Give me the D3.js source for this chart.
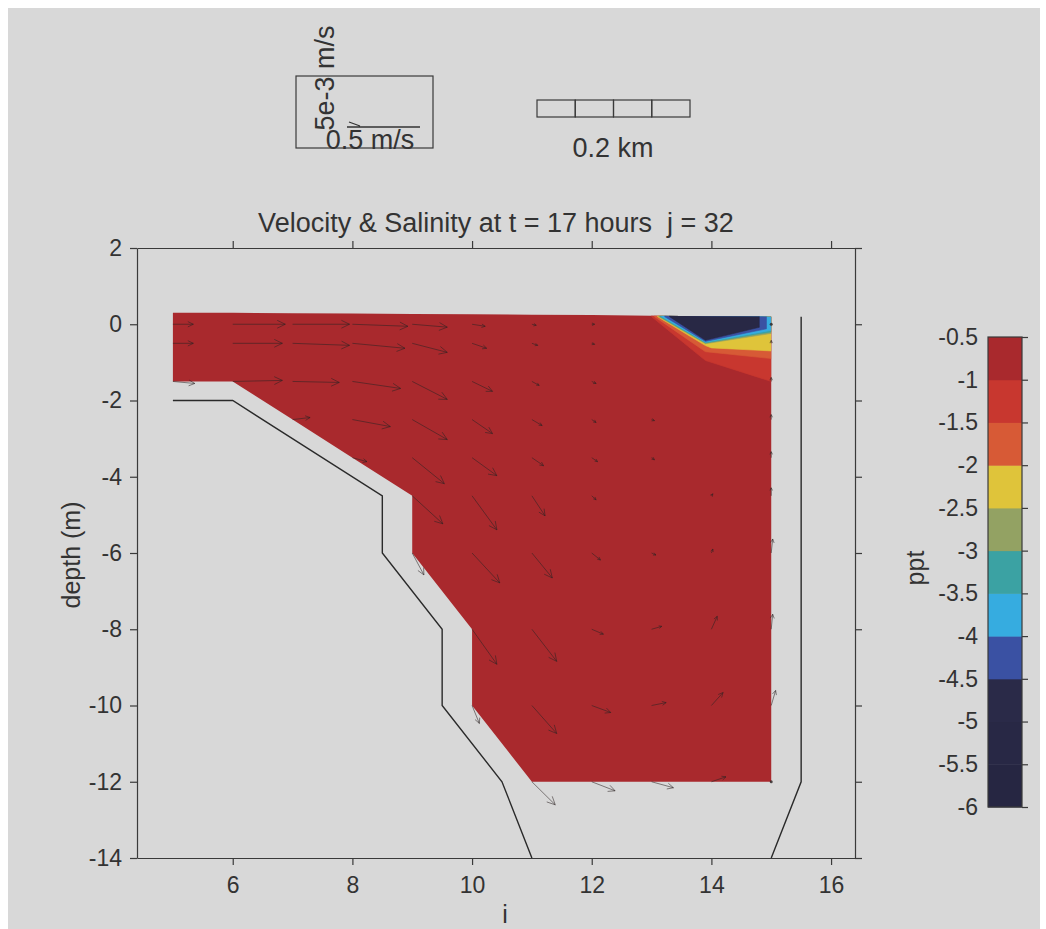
<!DOCTYPE html>
<html>
<head>
<meta charset="utf-8">
<script src="https://cdn.jsdelivr.net/npm/d3@7"></script>
<style>
  body { margin: 0; background: #fff; }
  svg { display: block; font-family: "Liberation Sans", Arial, sans-serif; }
</style>
</head>
<body>
<svg id="chart" width="1046" height="929"></svg>
<script>
// model grid: columns i and level depths (m)
var iCols = [5, 6, 7, 8, 9, 10, 11, 12, 13, 14, 15];
var levels = [0, -0.5, -1.5, -2.5, -3.5, -4.5, -6, -8, -10, -12];
var surface = [0.30, 0.30, 0.29, 0.28, 0.27, 0.26, 0.25, 0.24, 0.22, 0.21, 0.20];
var bottomDepth = [-1.5, -1.5, -2.5, -3.5, -6, -10, -12, -12, -12, -12, -12];

// bathymetry outline and right wall
var bedLine = [[5, -2], [6, -2], [8.5, -4.5], [8.5, -6], [9.5, -8], [9.5, -10], [10.5, -12], [11, -14]];
var wallLine = [[15.5, 0.2], [15.5, -12], [15, -14]];

// horizontal velocity u (m/s), rows = levels, columns = iCols
var uVel = [
  [0.14, 0.36, 0.39, 0.38, 0.24, 0.09, 0.03, 0.02, 0.00, 0.00, 0.00],
  [0.14, 0.34, 0.39, 0.36, 0.24, 0.10, 0.04, 0.02, 0.01, 0.01, 0.00],
  [0.15, 0.34, 0.32, 0.33, 0.24, 0.14, 0.05, 0.03, 0.01, 0.01, 0.00],
  [null, null, 0.12, 0.26, 0.24, 0.14, 0.07, 0.03, 0.02, 0.01, 0.00],
  [null, null, null, 0.10, 0.22, 0.17, 0.08, 0.04, 0.02, 0.01, 0.00],
  [null, null, null, null, 0.21, 0.17, 0.09, 0.03, 0.01, 0.01, 0.00],
  [null, null, null, null, 0.08, 0.19, 0.14, 0.06, 0.03, 0.01, 0.01],
  [null, null, null, null, null, 0.17, 0.17, 0.08, 0.07, 0.04, 0.01],
  [null, null, null, null, null, 0.05, 0.17, 0.13, 0.10, 0.08, 0.03],
  [null, null, null, null, null, null, 0.16, 0.16, 0.15, 0.10, 0.005]
];
// vertical velocity w (mm/s, i.e. units of 1e-3 m/s)
var wVel = [
  [0.00, 0.00, 0.00, -0.14, -0.20, -0.14, -0.07, 0.00, 0.00, 0.00, 0.00],
  [0.00, 0.00, -0.14, -0.34, -0.62, -0.34, -0.14, -0.07, 0.00, 0.00, 0.20],
  [-0.14, 0.07, -0.07, -0.48, -1.23, -0.68, -0.27, -0.14, -0.07, 0.00, 0.27],
  [null, null, 0.14, -0.48, -1.37, -0.96, -0.41, -0.20, -0.07, 0.00, 0.34],
  [null, null, null, -0.27, -1.78, -1.23, -0.55, -0.27, -0.14, 0.00, 0.41],
  [null, null, null, null, -1.92, -2.33, -1.37, -0.27, -0.07, 0.14, 0.55],
  [null, null, null, null, -1.50, -2.05, -1.71, -0.48, -0.14, 0.27, 0.96],
  [null, null, null, null, null, -2.40, -2.20, -0.34, 0.20, 0.89, 1.03],
  [null, null, null, null, null, -1.23, -1.92, -0.48, 0.20, 0.89, 1.03],
  [null, null, null, null, null, null, -1.58, -0.62, -0.41, 0.34, 0.00]
];

// salinity colour classes (ppt)
var salinityEdges = [-6, -5.5, -5, -4.5, -4, -3.5, -3, -2.5, -2, -1.5, -1, -0.5];
var salinityColors = ["#262642", "#282845", "#2a2a48", "#3a51a3", "#36ace0", "#3ba2a3",
                      "#93a263", "#dfc43a", "#d75a36", "#c8372f", "#a9292d"];
var cbTicks = [-0.5, -1, -1.5, -2, -2.5, -3, -3.5, -4, -4.5, -5, -5.5, -6];
var waterSalinity = -0.75;

// fresher water patch near the surface at the right (nested, outermost first)
var salinityPatches = [
  {value: -1.25, pts: [[13.0, 0.6], [15, 0.6], [15, -1.5], [13.9, -0.95], [13.0, 0.2]]},
  {value: -1.75, pts: [[13.05, 0.6], [15, 0.6], [15, -0.9], [13.9, -0.72], [13.05, 0.2]]},
  {value: -2.25, pts: [[13.1, 0.6], [15, 0.6], [15, -0.7], [14.0, -0.62], [13.9, -0.56], [13.1, 0.2]]},
  {value: -2.75, pts: [[13.12, 0.6], [15, 0.6], [15, -0.24], [13.9, -0.51], [13.12, 0.2]]},
  {value: -3.25, pts: [[13.14, 0.6], [15, 0.6], [15, -0.2], [13.9, -0.49], [13.14, 0.2]]},
  {value: -3.75, pts: [[13.17, 0.6], [15, 0.6], [15, -0.16], [13.9, -0.47], [13.17, 0.2]]},
  {value: -4.25, pts: [[13.22, 0.6], [14.92, 0.6], [14.92, -0.12], [13.9, -0.45], [13.22, 0.2]]},
  {value: -5.25, pts: [[13.3, 0.6], [14.8, 0.6], [14.8, -0.08], [13.9, -0.42], [13.3, 0.2]]}
];

var xTicks = [6, 8, 10, 12, 14, 16];
var yTicks = [2, 0, -2, -4, -6, -8, -10, -12, -14];

var titleText = "Velocity & Salinity at t = 17 hours  j = 32";
var refSpeed = 0.5;      // m/s, reference arrow
var refW = 5;            // mm/s, vertical reference (5e-3 m/s)
var refLen = 73;         // px of reference arrow

var svg = d3.select("#chart");
var ink = "#333";

// paper
svg.append("rect").attr("x", 8).attr("y", 8).attr("width", 1032).attr("height", 921).attr("fill", "#d8d8d8");

var plot = {left: 137, right: 855, top: 248, bottom: 858};

var x = d3.scaleLinear().domain([4.4, 16.4]).range([plot.left, plot.right]);
var y = d3.scaleLinear().domain([-14, 2]).range([plot.bottom, plot.top]);
var color = d3.scaleThreshold().domain(salinityEdges.slice(1, -1)).range(salinityColors);

var line = d3.line().x(function(d) { return x(d[0]); }).y(function(d) { return y(d[1]); });

// water region built from the grid
var topEdge = iCols.map(function(i, k) { return [i, surface[k]]; });
var bottomEdge = [];
for (var k = iCols.length - 1; k >= 0; k--) {
  bottomEdge.push([iCols[k], bottomDepth[k]]);
  if (k > 0 && bottomDepth[k - 1] > bottomDepth[k]) {
    var step = levels.find(function(l) { return l < bottomDepth[k - 1]; });
    if (step > bottomDepth[k]) bottomEdge.push([iCols[k], step]);
  }
}
var water = topEdge.concat(bottomEdge);

svg.append("defs").append("clipPath").attr("id", "waterClip")
  .append("path").attr("d", line(water) + "Z");

svg.append("path")
  .attr("d", line(water) + "Z")
  .attr("fill", color(waterSalinity));

svg.append("g").attr("clip-path", "url(#waterClip)")
  .selectAll("path").data(salinityPatches).enter().append("path")
  .attr("d", function(d) { return line(d.pts) + "Z"; })
  .attr("fill", function(d) { return color(d.value); })
  .attr("stroke", function(d) { return color(d.value); })
  .attr("stroke-width", 0.6);

// bathymetry lines
svg.append("path").attr("d", line(bedLine)).attr("fill", "none").attr("stroke", "#2a2a2a").attr("stroke-width", 1.4);
svg.append("path").attr("d", line(wallLine)).attr("fill", "none").attr("stroke", "#2a2a2a").attr("stroke-width", 1.4);

// velocity arrows
var uPx = refLen / refSpeed;
var wPx = refLen / refW;
function arrowPath(x0, y0, dx, dy) {
  var len = Math.sqrt(dx * dx + dy * dy);
  var x1 = x0 + dx, y1 = y0 + dy;
  var a = Math.atan2(dy, dx);
  var h = Math.min(9, Math.max(3, len * 0.3));
  var b = 0.45;
  return "M" + x0 + "," + y0 + "L" + x1 + "," + y1 +
    "M" + (x1 - h * Math.cos(a - b)) + "," + (y1 - h * Math.sin(a - b)) +
    "L" + x1 + "," + y1 +
    "L" + (x1 - h * Math.cos(a + b)) + "," + (y1 - h * Math.sin(a + b));
}
var vectors = [];
levels.forEach(function(lev, r) {
  iCols.forEach(function(i, c) {
    if (uVel[r][c] === null) return;
    vectors.push({i: i, z: lev, u: uVel[r][c], w: wVel[r][c]});
  });
});
var arrows = svg.append("g").attr("fill", "none").attr("stroke", "#2b2323")
  .attr("stroke-opacity", 0.55).attr("stroke-width", 1);
vectors.forEach(function(v) {
  var dx = v.u * uPx, dy = -v.w * wPx;
  var len = Math.sqrt(dx * dx + dy * dy);
  if (len < 2) {
    // near-zero vectors only show as a speck on the closed wall
    if (v.i === iCols[iCols.length - 1]) {
      arrows.append("circle").attr("cx", x(v.i)).attr("cy", y(v.z)).attr("r", 1.5)
        .attr("fill", "#2b2323").attr("fill-opacity", 0.8).attr("stroke", "none");
    }
  } else {
    arrows.append("path").attr("d", arrowPath(x(v.i), y(v.z), dx, dy));
  }
});

// axes
var fmt = function(d) { return String(d); };
function styleAxis(g) {
  g.selectAll("path, line").attr("stroke", "#3a3a3a").attr("stroke-width", 1.2);
  g.selectAll("text").attr("fill", ink).style("font-size", "23px")
    .style("font-family", "'Liberation Sans', Arial, sans-serif");
}
svg.append("g").attr("transform", "translate(" + plot.left + ",0)")
  .call(d3.axisLeft(y).tickValues(yTicks).tickFormat(fmt).tickSize(7).tickSizeOuter(0).tickPadding(8))
  .call(styleAxis);
svg.append("g").attr("transform", "translate(" + plot.right + ",0)")
  .call(d3.axisRight(y).tickValues(yTicks).tickFormat("").tickSize(7).tickSizeOuter(0))
  .call(styleAxis);
svg.append("g").attr("transform", "translate(0," + plot.bottom + ")")
  .call(d3.axisBottom(x).tickValues(xTicks).tickFormat(fmt).tickSize(7).tickSizeOuter(0).tickPadding(12))
  .call(styleAxis);
svg.append("g").attr("transform", "translate(0," + plot.top + ")")
  .call(d3.axisTop(x).tickValues(xTicks).tickFormat("").tickSize(7).tickSizeOuter(0))
  .call(styleAxis);

// titles
svg.append("text").attr("x", 496).attr("y", 232).attr("text-anchor", "middle")
  .style("white-space", "pre").style("font-size", "27px").attr("fill", ink).text(titleText);
svg.append("text").attr("transform", "translate(71,555) rotate(-90)").attr("text-anchor", "middle")
  .attr("dy", "0.35em").style("font-size", "25px").attr("fill", ink).text("depth (m)");
svg.append("text").attr("x", 505).attr("y", 923).attr("text-anchor", "middle")
  .style("font-size", "25px").attr("fill", ink).text("i");

// colorbar
var cb = {left: 988, right: 1022, top: 337, bottom: 807};
var yc = d3.scaleLinear().domain([-6, -0.5]).range([cb.bottom, cb.top]);
svg.append("g").selectAll("rect").data(salinityColors).enter().append("rect")
  .attr("x", cb.left).attr("width", cb.right - cb.left)
  .attr("y", function(d, k) { return yc(salinityEdges[k + 1]); })
  .attr("height", function(d, k) { return yc(salinityEdges[k]) - yc(salinityEdges[k + 1]) + 0.5; })
  .attr("fill", function(d) { return d; });
svg.append("rect").attr("x", cb.left).attr("y", cb.top).attr("width", cb.right - cb.left)
  .attr("height", cb.bottom - cb.top).attr("fill", "none").attr("stroke", "#3a3a3a").attr("stroke-width", 1.2);
svg.append("g").attr("transform", "translate(" + cb.left + ",0)")
  .call(d3.axisLeft(yc).tickValues(cbTicks).tickFormat(fmt).tickSize(0).tickPadding(10))
  .call(styleAxis)
  .call(function(g) { g.select(".domain").remove(); });
svg.append("g").attr("transform", "translate(" + cb.right + ",0)")
  .call(d3.axisRight(yc).tickValues(cbTicks).tickFormat("").tickSize(6).tickSizeOuter(0))
  .call(styleAxis)
  .call(function(g) { g.select(".domain").remove(); });
svg.append("text").attr("transform", "translate(915,568) rotate(-90)").attr("text-anchor", "middle")
  .attr("dy", "0.35em").style("font-size", "25px").attr("fill", ink).text("ppt");

// velocity scale legend
svg.append("rect").attr("x", 296).attr("y", 76).attr("width", 137).attr("height", 72)
  .attr("fill", "none").attr("stroke", "#3a3a3a").attr("stroke-width", 1.2);
svg.append("text").attr("transform", "translate(325,78) rotate(-90)").attr("text-anchor", "middle")
  .attr("dy", "0.35em").style("font-size", "27px").attr("fill", ink).text("5e-3 m/s");
svg.append("path").attr("d", "M347,127L" + (347 + refLen) + ",127M349,122L360,126")
  .attr("stroke", "#333").attr("stroke-width", 1.3).attr("fill", "none");
svg.append("text").attr("x", 370).attr("y", 149).attr("text-anchor", "middle")
  .style("font-size", "27px").attr("fill", ink).text(refSpeed + " m/s");

// distance scale bar
var barX = d3.scaleLinear().domain([0, 4]).range([537, 690]);
svg.append("g").selectAll("rect").data(d3.range(4)).enter().append("rect")
  .attr("x", function(d) { return barX(d); }).attr("y", 100)
  .attr("width", barX(1) - barX(0)).attr("height", 17)
  .attr("fill", "none").attr("stroke", "#3a3a3a").attr("stroke-width", 1.2);
svg.append("text").attr("x", 613).attr("y", 157).attr("text-anchor", "middle")
  .style("font-size", "27px").attr("fill", ink).text("0.2 km");
</script>
</body>
</html>
